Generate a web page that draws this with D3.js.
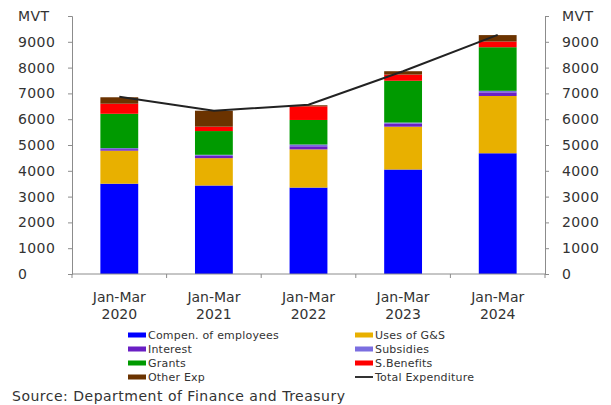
<!DOCTYPE html>
<html>
<head>
<meta charset="utf-8">
<script src="https://cdn.jsdelivr.net/npm/d3@7"></script>
<style>
  html, body { margin: 0; padding: 0; background: #fff; }
  svg { display: block; }
  text { font-family: "DejaVu Sans", sans-serif; fill: #333; }
</style>
</head>
<body>
<svg id="chart" width="611" height="405"></svg>
<script>
// Quarterly government expenditure (Jan-Mar), millions of vatu
const periods = ["Jan-Mar 2020", "Jan-Mar 2021", "Jan-Mar 2022", "Jan-Mar 2023", "Jan-Mar 2024"];
const compensation = [3500, 3430, 3350, 4050, 4680];
const usesGS = [1280, 1060, 1480, 1660, 2220];
const interest = [60, 90, 120, 110, 140];
const subsidies = [40, 40, 70, 50, 60];
const grants = [1330, 920, 950, 1620, 1690];
const sBenefits = [390, 170, 530, 240, 220];
const otherExp = [250, 620, 40, 130, 250];
const totalExpenditure = [6870, 6330, 6560, 7860, 9270];
const yTicks = [0, 1000, 2000, 3000, 4000, 5000, 6000, 7000, 8000, 9000, 10000];

const series = [
  { name: "Compen. of employees", values: compensation, color: "#0000ff" },
  { name: "Uses of G&S", values: usesGS, color: "#e8b000" },
  { name: "Interest", values: interest, color: "#6a1fc4" },
  { name: "Subsidies", values: subsidies, color: "#7b6ee0" },
  { name: "Grants", values: grants, color: "#009a00" },
  { name: "S.Benefits", values: sBenefits, color: "#ff0000" },
  { name: "Other Exp", values: otherExp, color: "#6b3300" }
];

const svg = d3.select("#chart");
const plot = { left: 72, right: 545, top: 16, bottom: 274 };

const x = d3.scaleBand().domain(periods).range([plot.left, plot.right]).paddingInner(0.6).paddingOuter(0.3);
const y = d3.scaleLinear().domain([0, 10000]).range([plot.bottom, plot.top]);

// stacked bars
const rows = periods.map((p, i) => {
  const r = { period: p };
  series.forEach(s => { r[s.name] = s.values[i]; });
  return r;
});
const stack = d3.stack().keys(series.map(s => s.name))(rows);

svg.append("g").selectAll("g")
  .data(stack)
  .join("g")
  .attr("fill", (d, i) => series[i].color)
  .selectAll("rect")
  .data(d => d)
  .join("rect")
  .attr("x", d => x(d.data.period))
  .attr("width", x.bandwidth())
  .attr("y", d => y(d[1]))
  .attr("height", d => y(d[0]) - y(d[1]));

// axes
const axisColor = "#8c8c8c";
const leftAxis = svg.append("g")
  .attr("transform", `translate(${plot.left},0)`)
  .call(d3.axisLeft(y).tickValues(yTicks).tickSize(4).tickPadding(12)
    .tickFormat(d => d === 10000 ? "MVT" : d));
const rightAxis = svg.append("g")
  .attr("transform", `translate(${plot.right},0)`)
  .call(d3.axisRight(y).tickValues(yTicks).tickSize(4).tickPadding(13)
    .tickFormat(d => d === 10000 ? "MVT" : d));
[leftAxis, rightAxis].forEach(a => {
  a.select(".domain").attr("stroke", axisColor);
  a.selectAll(".tick line").attr("stroke", axisColor);
  a.selectAll("text").attr("font-size", 14).attr("fill", "#333")
    .style("font-family", "'DejaVu Sans', sans-serif")
    .style("letter-spacing", "0.4px");
});
leftAxis.selectAll("text").attr("text-anchor", "start").attr("x", -54);

// category axis: ticks sit between the bars
const boundaries = d3.range(periods.length + 1).map(i => plot.left + (plot.right - plot.left) * i / periods.length);
const bottom = svg.append("g");
bottom.append("line")
  .attr("x1", plot.left).attr("x2", plot.right)
  .attr("y1", plot.bottom).attr("y2", plot.bottom)
  .attr("stroke", axisColor);
bottom.selectAll("line.tk").data(boundaries).join("line")
  .attr("class", "tk")
  .attr("x1", d => d).attr("x2", d => d)
  .attr("y1", plot.bottom).attr("y2", plot.bottom + 4)
  .attr("stroke", axisColor);
const catLabels = bottom.selectAll("text").data(periods).join("text")
  .attr("text-anchor", "middle")
  .attr("font-size", 14)
  .attr("x", d => x(d) + x.bandwidth() / 2);
catLabels.append("tspan").attr("x", d => x(d) + x.bandwidth() / 2).attr("y", 302).text(d => d.split(" ")[0]);
catLabels.append("tspan").attr("x", d => x(d) + x.bandwidth() / 2).attr("y", 319).text(d => d.split(" ")[1]);

// total expenditure line
const line = d3.line()
  .x((d, i) => x(periods[i]) + x.bandwidth() / 2)
  .y(d => y(d));
svg.append("path")
  .datum(totalExpenditure)
  .attr("fill", "none")
  .attr("stroke", "#222")
  .attr("stroke-width", 2)
  .attr("d", line);

// legend: two columns, four rows
const legendItems = [
  series[0], series[1], series[2], series[3], series[4], series[5], series[6],
  { name: "Total Expenditure", color: "#333", line: true }
];
const legend = svg.append("g");
legendItems.forEach((item, i) => {
  const col = i % 2, row = Math.floor(i / 2);
  const gx = col === 0 ? 128 : 355;
  const gy = 335 + row * 14;
  legend.append("rect")
    .attr("x", gx).attr("y", gy - (item.line ? 1 : 2.5))
    .attr("width", 18).attr("height", item.line ? 2 : 5)
    .attr("fill", item.color);
  legend.append("text")
    .attr("x", gx + 20).attr("y", gy + 4)
    .attr("font-size", 11)
    .attr("fill", "#333")
    .style("letter-spacing", "0.2px")
    .text(item.name);
});

svg.append("text")
  .attr("x", 12).attr("y", 401)
  .attr("font-size", 14)
  .attr("fill", "#333")
  .style("letter-spacing", "0.5px")
  .text("Source: Department of Finance and Treasury");
</script>
</body>
</html>
